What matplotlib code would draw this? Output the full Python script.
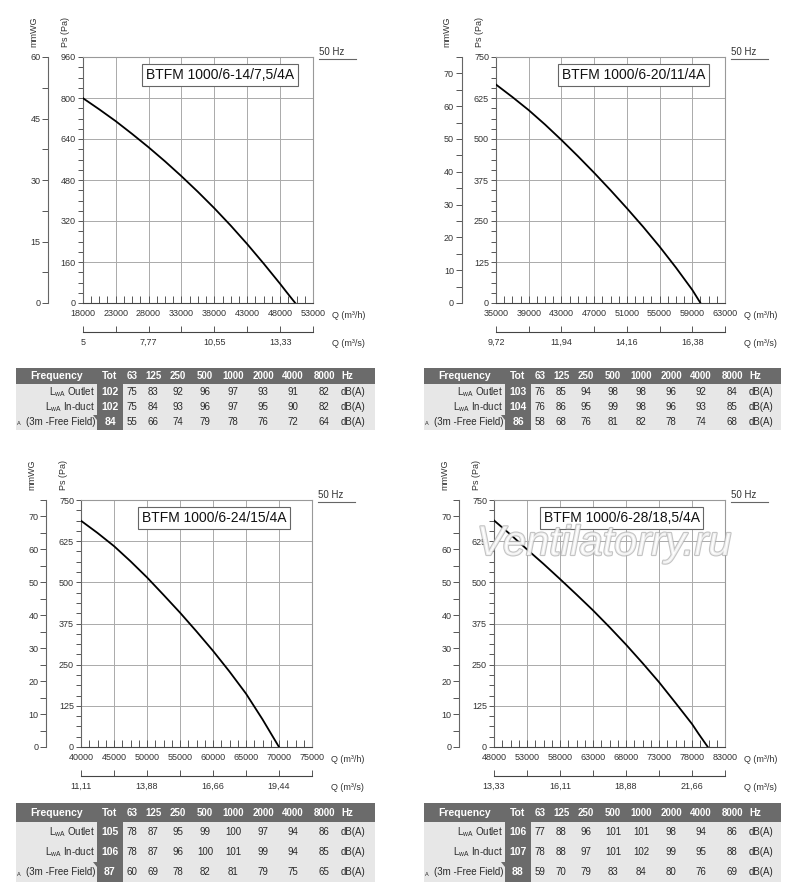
import matplotlib
matplotlib.use('Agg')
import matplotlib.pyplot as plt
import matplotlib.patheffects as pe
from matplotlib.patches import Rectangle, Polygon
from matplotlib.ticker import AutoMinorLocator

plt.rcParams['font.family'] = ['Liberation Sans', 'DejaVu Sans']

W, H = 800, 893

# ---- fan curves
titles = ['BTFM 1000/6-14/7,5/4A', 'BTFM 1000/6-20/11/4A',
          'BTFM 1000/6-24/15/4A', 'BTFM 1000/6-28/18,5/4A']

q1 = [18000, 20500, 23000, 25500, 28000, 30500, 33000, 35500, 38000,
      40500, 43000, 45500, 48000, 49000, 50300]
ps1 = [800, 756, 710, 660, 608, 553, 495, 434, 370, 302, 230, 154, 75,
       42, 0]
q2 = [35000, 37000, 39000, 41000, 43000, 45000, 47000, 49000, 51000,
      53000, 55000, 57000, 59000, 60000]
ps2 = [666, 628, 588, 544, 497, 448, 397, 344, 289, 232, 172, 108, 40, 0]
q3 = [40000, 42500, 45000, 47500, 50000, 52500, 55000, 57500, 60000,
      62500, 65000, 67500, 70000]
ps3 = [687, 650, 610, 564, 515, 462, 408, 351, 292, 229, 162, 84, 0]
q4 = [48000, 50500, 53000, 55500, 58000, 60500, 63000, 65500, 68000,
      70500, 73000, 75500, 78000, 79000, 80400]
ps4 = [688, 645, 600, 556, 510, 463, 415, 364, 311, 255, 197, 134, 70,
       40, 0]

# ---- axis ticks
q_ticks1 = [18000, 23000, 28000, 33000, 38000, 43000, 48000, 53000]
q_ticks2 = [35000, 39000, 43000, 47000, 51000, 55000, 59000, 63000]
q_ticks3 = [40000, 45000, 50000, 55000, 60000, 65000, 70000, 75000]
q_ticks4 = [48000, 53000, 58000, 63000, 68000, 73000, 78000, 83000]
ms_labels1 = ['5', '', '7,77', '', '10,55', '', '13,33', '']
ms_labels2 = ['9,72', '', '11,94', '', '14,16', '', '16,38', '']
ms_labels3 = ['11,11', '', '13,88', '', '16,66', '', '19,44', '']
ms_labels4 = ['13,33', '', '16,11', '', '18,88', '', '21,66', '']
pa_ticks1 = [0, 160, 320, 480, 640, 800, 960]
pa_ticks2 = [0, 125, 250, 375, 500, 625, 750]
mm_ticks1 = [0, 15, 30, 45, 60]
mm_ticks2 = [0, 10, 20, 30, 40, 50, 60, 70]

# ---- sound tables
bands = ['63', '125', '250', '500', '1000', '2000', '4000', '8000']
tot1 = [102, 102, 84]
outlet1 = [75, 83, 92, 96, 97, 93, 91, 82]
induct1 = [75, 84, 93, 96, 97, 95, 90, 82]
free1 = [55, 66, 74, 79, 78, 76, 72, 64]
tot2 = [103, 104, 86]
outlet2 = [76, 85, 94, 98, 98, 96, 92, 84]
induct2 = [76, 86, 95, 99, 98, 96, 93, 85]
free2 = [58, 68, 76, 81, 82, 78, 74, 68]
tot3 = [105, 106, 87]
outlet3 = [78, 87, 95, 99, 100, 97, 94, 86]
induct3 = [78, 87, 96, 100, 101, 99, 94, 85]
free3 = [60, 69, 78, 82, 81, 79, 75, 65]
tot4 = [106, 107, 88]
outlet4 = [77, 88, 96, 101, 101, 98, 94, 86]
induct4 = [78, 88, 97, 101, 102, 99, 95, 88]
free4 = [59, 70, 79, 83, 84, 80, 76, 69]
row_labels = [r'$\mathregular{L_{wA}}$ Outlet', r'$\mathregular{L_{wA}}$ In-duct',
              '(3m -Free Field)']

DARK = '#6b6b6b'
LIGHT = '#e7e7e7'
TXT = '#2a2a2a'


def px_rect(x0, y0, x1, y1):
    return [x0 / W, 1 - y1 / H, (x1 - x0) / W, (y1 - y0) / H]


def ftext(x, y, s, **kw):
    fig.text(x / W, 1 - y / H, s, **kw)


def draw_chart(box, q, ps, q_ticks, pa_ticks, mm_ticks, mm_div, mm_minor,
               ms_labels, title, title_x):
    x0, y0, x1, y1 = box
    ax = fig.add_axes(px_rect(*box))
    ax.plot(q, ps, color='black', lw=1.3, zorder=3)
    ax.set_xlim(q_ticks[0], q_ticks[-1])
    ax.set_ylim(pa_ticks[0], pa_ticks[-1])
    ax.set_xticks(q_ticks)
    ax.set_xticklabels([str(t) for t in q_ticks])
    ax.set_yticks(pa_ticks)
    ax.set_yticklabels([str(t) for t in pa_ticks])
    ax.xaxis.set_minor_locator(AutoMinorLocator(4))
    ax.yaxis.set_minor_locator(AutoMinorLocator(4))
    ax.grid(True, which='major', color='#aaaaaa', lw=0.7)
    ax.set_axisbelow(True)
    for s in ['top', 'right']:
        ax.spines[s].set_color('#999999')
        ax.spines[s].set_linewidth(0.8)
    ax.spines['left'].set_color('#666666')
    ax.spines['bottom'].set_color('#444444')
    ax.tick_params(axis='x', which='both', direction='in', length=5,
                   width=0.7, color='#555555', labelsize=6.5,
                   labelcolor='#333333', pad=4)
    ax.tick_params(axis='y', which='both', direction='out', length=3.5,
                   width=0.7, color='#555555', labelsize=6.5,
                   labelcolor='#333333', pad=1.5)

    secy = ax.secondary_yaxis(-0.15, functions=(lambda p: p / mm_div,
                                                lambda m: m * mm_div))
    secy.set_yticks(mm_ticks)
    secy.set_yticklabels([str(t) for t in mm_ticks])
    secy.yaxis.set_minor_locator(AutoMinorLocator(mm_minor))
    secy.spines['left'].set_color('#666666')
    secy.tick_params(which='both', direction='out', length=4, width=0.7,
                     color='#555555', labelsize=6.5, labelcolor='#333333',
                     pad=1.5)

    secx = ax.secondary_xaxis(-0.118, functions=(lambda v: v / 3600,
                                                 lambda s: s * 3600))
    secx.set_xticks([t / 3600 for t in q_ticks])
    secx.set_xticklabels(ms_labels)
    secx.spines['bottom'].set_color('#444444')
    secx.tick_params(direction='in', length=4, width=0.7, color='#555555',
                     labelsize=6.5, labelcolor='#333333', pad=4)

    ax.text(title_x, 0.927, title, transform=ax.transAxes, ha='center',
            va='center', fontsize=10, color='#111111', zorder=4,
            bbox=dict(boxstyle='square,pad=0.28', fc='white', ec='#666666',
                      lw=0.8))

    ftext(x0 - 17, y0 - 25, 'Ps (Pa)', rotation=90, ha='center',
          va='center', fontsize=6.5, color='#333333')
    ftext(x0 - 49, y0 - 25, 'mmWG', rotation=90, ha='center', va='center',
          fontsize=6.5, color='#333333')
    ftext(x1 + 19, y1 + 13, 'Q (m³/h)', ha='left', va='center',
          fontsize=6.5, color='#333333')
    ftext(x1 + 19, y1 + 40, 'Q (m³/s)', ha='left', va='center',
          fontsize=6.5, color='#333333')
    ftext(x1 + 6, y0 - 5, '50 Hz', ha='left', va='center', fontsize=7,
          color='#333333')
    fig.add_artist(plt.Line2D([(x1 + 6) / W, (x1 + 43) / W],
                              [1 - (y0 + 2) / H, 1 - (y0 + 2) / H],
                              color='#666666', lw=0.8))
    return ax


def draw_table(box, h_head, tot, outlet, induct, free):
    x0, y0, x1, y1 = box
    tw, th = x1 - x0, y1 - y0
    h_row = (th - h_head) / 3
    ax = fig.add_axes(px_rect(*box))
    ax.set_xlim(0, tw)
    ax.set_ylim(th, 0)
    ax.axis('off')
    ax.add_patch(Rectangle((0, 0), tw, th, color=LIGHT, lw=0))
    ax.add_patch(Rectangle((0, 0), tw, h_head, color=DARK, lw=0))
    ax.add_patch(Rectangle((81, 0), 26, th, color=DARK, lw=0))

    col_x = [116, 137, 162, 189, 217, 247, 277, 308]
    yc = h_head / 2
    ax.text(41, yc, 'Frequency', ha='center', va='center', fontsize=7.5,
            color='white', fontweight='bold')
    ax.text(94, yc, 'Tot', ha='center', va='center', fontsize=7.5,
            color='white', fontweight='bold')
    for cx, b in zip(col_x, bands):
        ax.text(cx, yc, b, ha='center', va='center', fontsize=7,
                color='white', fontweight='bold')
    ax.text(325, yc, 'Hz', ha='left', va='center', fontsize=7,
            color='white', fontweight='bold')

    for i, vals in enumerate([outlet, induct, free]):
        ry = h_head + h_row * (i + 0.5)
        ax.text(79, ry, row_labels[i], ha='right', va='center', fontsize=7,
                color=TXT)
        ax.text(94, ry, str(tot[i]), ha='center', va='center', fontsize=7.5,
                color='white', fontweight='bold')
        for cx, v in zip(col_x, vals):
            ax.text(cx, ry, str(v), ha='center', va='center', fontsize=7,
                    color=TXT)
        ax.text(325, ry, 'dB(A)', ha='left', va='center', fontsize=7,
                color=TXT)
    top3 = h_head + 2 * h_row
    ax.add_patch(Polygon([[77, top3], [81, top3], [81, top3 + 5]],
                         closed=True, color=DARK, lw=0))
    ax.text(1, h_head + h_row * 2.6, 'A', ha='left', va='center',
            fontsize=4, color=TXT)


fig = plt.figure(figsize=(W / 100, H / 100), dpi=100)

draw_chart((82.7, 57, 313, 303), q1, ps1, q_ticks1, pa_ticks1, mm_ticks1,
           16, 2, ms_labels1, titles[0], 0.596)
draw_chart((496, 57, 725, 303), q2, ps2, q_ticks2, pa_ticks2, mm_ticks2,
           10, 2, ms_labels2, titles[1], 0.60)
draw_chart((81, 500, 312, 747), q3, ps3, q_ticks3, pa_ticks2, mm_ticks2,
           10, 2, ms_labels3, titles[2], 0.576)
draw_chart((494, 500, 725, 747), q4, ps4, q_ticks4, pa_ticks2, mm_ticks2,
           10, 2, ms_labels4, titles[3], 0.552)

draw_table((16, 368, 375, 430), 16, tot1, outlet1, induct1, free1)
draw_table((424, 368, 781, 430), 16, tot2, outlet2, induct2, free2)
draw_table((16, 803, 375, 882), 19, tot3, outlet3, induct3, free3)
draw_table((424, 803, 781, 882), 19, tot4, outlet4, induct4, free4)

# watermark
ftext(604, 544, 'Ventilatorry.ru', ha='center', va='center', fontsize=30,
      style='italic', color='white', alpha=0.75, zorder=10,
      path_effects=[pe.withStroke(linewidth=1.6, foreground='#b0b0b0')])

fig.savefig('out.png', dpi=100)
